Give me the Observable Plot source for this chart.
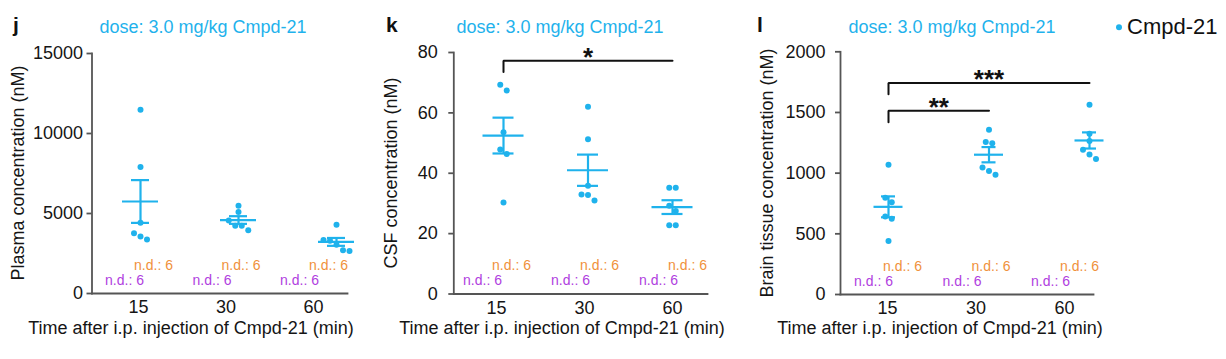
<!DOCTYPE html>
<html><head><meta charset="utf-8">
<script src="https://cdn.jsdelivr.net/npm/d3@7"></script>
<script src="https://cdn.jsdelivr.net/npm/@observablehq/plot@0.6"></script>
<style>
body{margin:0;background:#fff;}
#fig{position:relative;width:1226px;height:359px;overflow:hidden;background:#fff;}
#fig > svg{position:absolute;left:0;top:0;}
</style></head><body><div id="fig"></div>
<script>
// ---------- data ----------
const times = ["15", "30", "60"];
const doseTitle = "dose: 3.0 mg/kg Cmpd-21";
const xTitle = "Time after i.p. injection of Cmpd-21 (min)";
const seriesName = "Cmpd-21";
const ndUpper = [6, 6, 6];   // orange "n.d." counts
const ndLower = [6, 6, 6];   // purple "n.d." counts

const plasma15 = [11480, 7900, 4420, 3770, 3560, 3370];
const plasma30 = [5480, 5100, 4560, 4230, 4230, 3950];
const plasma60 = [4300, 3350, 3300, 3050, 2700, 2650];
const csf15 = [69.3, 67.4, 53.6, 47.9, 46.4, 30.3];
const csf30 = [62.0, 51.3, 35.9, 33.0, 32.8, 31.0];
const csf60 = [35.2, 35.2, 29.2, 27.5, 22.8, 22.8];
const brain15 = [1069, 797, 761, 643, 624, 440];
const brain30 = [1358, 1256, 1247, 1047, 1017, 987];
const brain60 = [1564, 1325, 1264, 1193, 1154, 1116];

const csfBrackets = [{from: "15", to: "60", stars: "*"}];
const brainBrackets = [{from: "15", to: "30", stars: "**"}, {from: "15", to: "60", stars: "***"}];

// ---------- styles / layout ----------
const W = 1226, H = 359;
const fontFamily = '"Liberation Sans", Arial, Helvetica, sans-serif';
const blue = "#1fb2ec", orange = "#f0913c", purple = "#b03ee0";
const axisColor = "#555", textColor = "#151515";

const panels = [
  {letter: "j", yLabel: "Plasma concentration (nM)", groups: [plasma15, plasma30, plasma60], yMax: 15000, yTicks: [0, 5000, 10000, 15000], brackets: [],
   left: 91.5, right: 347, top: 53, bottom: 293, dataFirst: 140, dataStep: 98, labelFirst: 138, labelStep: 87.5,
   meanHalf: 18, capHalf: 9, tickPadding: 4, letterX: 13, titleX: 203, xTitleX: 191, yTitleX: 24},
  {letter: "k", yLabel: "CSF concentration (nM)", groups: [csf15, csf30, csf60], yMax: 80, yTicks: [0, 20, 40, 60, 80], brackets: csfBrackets,
   left: 453.3, right: 707, top: 52, bottom: 293.5, dataFirst: 503, dataStep: 84.5, labelFirst: 496, labelStep: 88,
   meanHalf: 20.5, capHalf: 10.5, tickPadding: 11, letterX: 386, titleX: 560, xTitleX: 562, yTitleX: 397},
  {letter: "l", yLabel: "Brain tissue concentration (nM)", groups: [brain15, brain30, brain60], yMax: 2000, yTicks: [0, 500, 1000, 1500, 2000], brackets: brainBrackets,
   left: 840, right: 1093, top: 51.3, bottom: 294, dataFirst: 888, dataStep: 100.5, labelFirst: 887, labelStep: 88.5,
   meanHalf: 14.5, capHalf: 7, tickPadding: 10, letterX: 757, titleX: 952, xTitleX: 940, yTitleX: 773}
];

// symmetric horizontal spreading of overlapping points (pixel space)
function dodge(values, yPix, spacing, thresh) {
  const pts = values.map((v, k) => ({k, py: yPix(v)})).sort((a, b) => a.py - b.py);
  const offs = new Array(values.length).fill(0);
  let row = [];
  const flush = () => { row.forEach((p, j) => offs[p.k] = (j - (row.length - 1) / 2) * spacing); row = []; };
  for (const p of pts) {
    if (row.length && p.py - row[row.length - 1].py > thresh) flush();
    row.push(p);
  }
  flush();
  return offs;
}

const fig = document.getElementById("fig");

for (const P of panels) {
  const yPix = d3.scaleLinear([0, P.yMax], [P.bottom, P.top]);
  const points = [], stats = [];
  P.groups.forEach((vals, i) => {
    const offs = dodge(vals, yPix, 6.5, 6);
    vals.forEach((v, k) => points.push({i, v, x: i + offs[k] / P.dataStep}));
    const m = d3.mean(vals), s = d3.deviation(vals) / Math.sqrt(vals.length);
    stats.push({i, mean: m, lo: m - s, hi: m + s});
  });
  const bracketRows = P.brackets.map((b, id) => {
    const a = times.indexOf(b.from), c = times.indexOf(b.to);
    const level = 1.115 * d3.max(P.groups.slice(a, c + 1).flat());
    return {id, a, c, level, drop: level - 0.047 * P.yMax, mid: (a + c) / 2, stars: b.stars};
  });
  const bracketPts = bracketRows.flatMap(b => [
    {id: b.id, x: b.a, y: b.drop}, {id: b.id, x: b.a, y: b.level}, {id: b.id, x: b.c, y: b.level}
  ]);

  const common = {
    width: W, height: H,
    marginLeft: P.left, marginRight: W - P.right, marginTop: P.top, marginBottom: H - P.bottom,
    style: {background: "transparent", fontFamily, overflow: "visible"}
  };

  // axes / labels layer
  fig.appendChild(Plot.plot({
    ...common,
    x: {domain: [(P.left - P.labelFirst) / P.labelStep, (P.right - P.labelFirst) / P.labelStep]},
    y: {domain: [0, P.yMax]},
    marks: [
      Plot.frame({anchor: "left", stroke: axisColor, strokeWidth: 1.8}),
      Plot.frame({anchor: "bottom", stroke: axisColor, strokeWidth: 1.8}),
      Plot.axisY({ticks: P.yTicks, tickSize: 5, tickPadding: P.tickPadding, fontSize: 18, label: null,
                  stroke: axisColor, strokeWidth: 1.8, fill: textColor, tickFormat: d => String(d)}),
      Plot.axisX({ticks: [0, 1, 2], tickFormat: i => times[i], tickSize: 0, tickPadding: 7, fontSize: 18,
                  label: null, fill: textColor}),
      Plot.text(ndUpper, {x: (d, i) => i, text: d => "n.d.: " + d, frameAnchor: "bottom", dy: -24, dx: 15, fill: orange, fontSize: 14}),
      Plot.text(ndLower, {x: (d, i) => i, text: d => "n.d.: " + d, frameAnchor: "bottom", dy: -9, dx: -14, fill: purple, fontSize: 14})
    ]
  }));

  // data layer
  fig.appendChild(Plot.plot({
    ...common,
    x: {domain: [(P.left - P.dataFirst) / P.dataStep, (P.right - P.dataFirst) / P.dataStep], axis: null},
    y: {domain: [0, P.yMax], axis: null},
    marks: [
      Plot.ruleX(stats, {x: "i", y1: "lo", y2: "hi", stroke: blue, strokeWidth: 2.2}),
      Plot.ruleY(stats, {x1: d => d.i - P.capHalf / P.dataStep, x2: d => d.i + P.capHalf / P.dataStep, y: "hi", stroke: blue, strokeWidth: 2.2}),
      Plot.ruleY(stats, {x1: d => d.i - P.capHalf / P.dataStep, x2: d => d.i + P.capHalf / P.dataStep, y: "lo", stroke: blue, strokeWidth: 2.2}),
      Plot.ruleY(stats, {x1: d => d.i - P.meanHalf / P.dataStep, x2: d => d.i + P.meanHalf / P.dataStep, y: "mean", stroke: blue, strokeWidth: 2.2}),
      Plot.dot(points, {x: "x", y: "v", r: 3, fill: blue}),
      Plot.line(bracketPts, {x: "x", y: "y", z: "id", stroke: "#111", strokeWidth: 2, strokeLinejoin: "miter"}),
      Plot.text(bracketRows, {x: "mid", y: "level", text: "stars", fontSize: 26, fontWeight: "bold", dy: -3.5, fill: "#111"})
    ]
  }));
}

// ---------- annotations (titles, letters, axis titles, legend) ----------
const ann = d3.select(fig).append("svg").attr("width", W).attr("height", H).attr("font-family", fontFamily);
for (const P of panels) {
  ann.append("text").attr("x", P.letterX).attr("y", 32).attr("font-size", 21).attr("font-weight", "bold").attr("fill", "#111").text(P.letter);
  ann.append("text").attr("x", P.titleX).attr("y", 33).attr("text-anchor", "middle").attr("font-size", 18).attr("fill", blue).text(doseTitle);
  ann.append("text").attr("x", P.xTitleX).attr("y", 334).attr("text-anchor", "middle").attr("font-size", 18).attr("fill", textColor).text(xTitle);
  ann.append("text").attr("transform", `translate(${P.yTitleX},173) rotate(-90)`).attr("text-anchor", "middle").attr("font-size", 18).attr("fill", textColor).text(P.yLabel);
}
ann.append("circle").attr("cx", 1119).attr("cy", 27.3).attr("r", 3).attr("fill", blue);
ann.append("text").attr("x", 1127).attr("y", 34.3).attr("font-size", 22).attr("fill", "#111").text(seriesName);
</script>
</body></html>
